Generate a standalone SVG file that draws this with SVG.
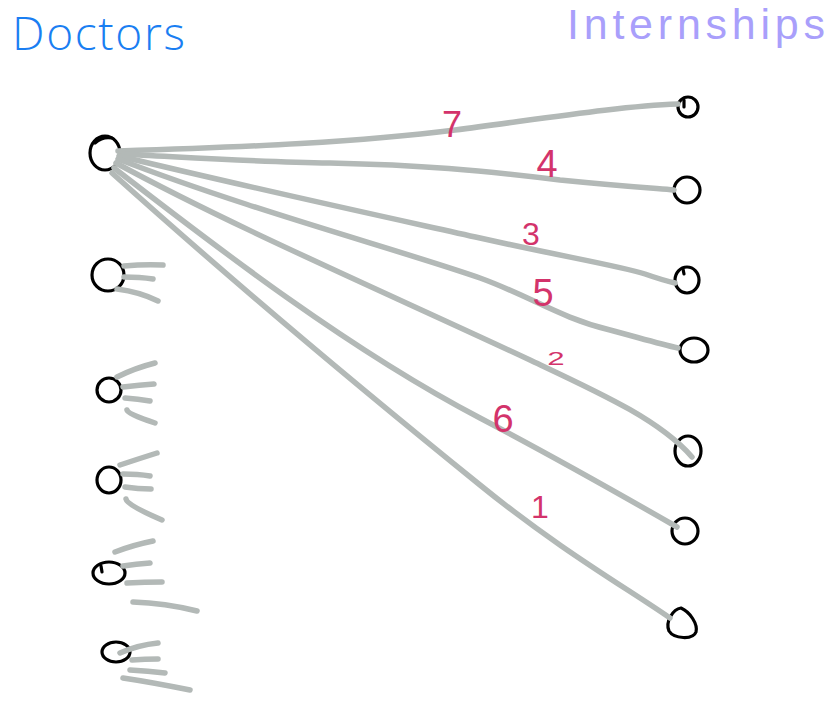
<svg xmlns="http://www.w3.org/2000/svg" width="840" height="701" viewBox="0 0 840 701">
  <style>
    .bg { fill: #ffffff; }
    .node { fill: none; stroke: #000000; stroke-width: 3.2; stroke-linecap: round; stroke-linejoin: round; }
    .edge { fill: none; stroke: #b3b9b7; stroke-width: 5.5; stroke-linecap: round; stroke-linejoin: round; }
    .title { font-weight: 300; }
    .doctors { font-family: "Open Sans", "Liberation Sans", sans-serif; fill: #1a7ef2; font-size: 46px; }
    .internships { font-family: "Liberation Sans", Arial, sans-serif; fill: #a99ffb; font-size: 43px; }
    .weight { font-family: "Liberation Sans", Arial, sans-serif; fill: #d3336b; text-anchor: middle; }
  </style>

  <rect class="bg" x="0" y="0" width="840" height="701"/>

  <!-- Column headings -->
  <text id="title-doctors" class="title doctors" x="12" y="50" textLength="173" lengthAdjust="spacing">Doctors</text>
  <text id="title-internships" class="title internships" x="567" y="39" textLength="258" lengthAdjust="spacing">Internships</text>

  <!-- Doctors -->
  <g id="doctor-1"><ellipse class="node" cx="105" cy="153" rx="15" ry="17"/><path class="node" d="M95,143 Q103,136 112,138"/></g>
  <g id="doctor-2"><ellipse class="node" cx="108" cy="275" rx="16" ry="16"/></g>
  <g id="doctor-3"><ellipse class="node" cx="109" cy="390" rx="12" ry="12"/></g>
  <g id="doctor-4"><ellipse class="node" cx="109" cy="480" rx="12" ry="13"/></g>
  <g id="doctor-5"><ellipse class="node" cx="109" cy="573" rx="16" ry="11"/><path class="node" d="M101,566 L102,572"/></g>
  <g id="doctor-6"><ellipse class="node" cx="116" cy="652" rx="14" ry="10"/></g>

  <!-- Internships -->
  <g id="internship-1"><ellipse class="node" cx="688" cy="107" rx="10" ry="10"/><path class="node" d="M684,100 L684,107"/></g>
  <g id="internship-2"><ellipse class="node" cx="687" cy="190" rx="13" ry="13"/></g>
  <g id="internship-3"><ellipse class="node" cx="687" cy="280" rx="12" ry="13"/><path class="node" d="M683,269 L684,274"/></g>
  <g id="internship-4"><ellipse class="node" cx="694" cy="350" rx="14" ry="12"/></g>
  <g id="internship-5"><ellipse class="node" cx="688" cy="451" rx="13" ry="15"/></g>
  <g id="internship-6"><ellipse class="node" cx="685" cy="531" rx="13" ry="13"/></g>
  <g id="internship-7"><path class="node" d="M681,608 C690,612 698,624 696,632 C693,640 674,639 669,631 C665,622 673,609 681,608 Z"/></g>

  <!-- Connectors -->
  <g id="connectors">
    <!-- doctor 1 to every internship -->
    <path class="edge" d="M118,151 C250,147 360,142 455,130 C540,119 620,106 678,104"/>
    <path class="edge" d="M120,154 C200,158 260,162 330,163 C420,165 480,170 560,180 C620,186 650,188 674,190"/>
    <path class="edge" d="M119,156 C260,190 390,218 480,238 C560,256 620,266 645,274 Q662,280 675,283"/>
    <path class="edge" d="M118,159 C250,210 400,250 480,278 C530,296 560,318 610,330 C640,338 660,344 678,348"/>
    <path class="edge" d="M116,163 C230,225 380,290 530,360 C600,393 660,420 692,457"/>
    <path class="edge" d="M114,168 C220,250 350,350 480,418 C560,460 630,500 677,527"/>
    <path class="edge" d="M112,173 C220,270 350,380 480,485 C560,550 630,590 670,618"/>

    <!-- stubs of the other doctors -->
    <path class="edge" d="M124,266 Q145,264 163,265"/>
    <path class="edge" d="M124,277 Q140,277 153,279"/>
    <path class="edge" d="M117,289 Q140,292 158,301"/>

    <path class="edge" d="M117,377 Q135,368 155,363"/>
    <path class="edge" d="M123,387 Q140,385 154,384"/>
    <path class="edge" d="M125,398 Q138,399 150,401"/>
    <path class="edge" d="M127,410 Q128,414 155,423"/>

    <path class="edge" d="M120,465 Q138,459 157,453"/>
    <path class="edge" d="M123,474 Q138,474 150,476"/>
    <path class="edge" d="M125,487 Q138,489 151,489"/>
    <path class="edge" d="M126,499 Q127,505 162,520"/>

    <path class="edge" d="M115,552 Q133,545 153,541"/>
    <path class="edge" d="M123,566 Q136,564 150,563"/>
    <path class="edge" d="M127,583 Q145,582 162,582"/>
    <path class="edge" d="M133,602 Q165,603 197,611"/>

    <path class="edge" d="M120,653 Q138,645 158,643"/>
    <path class="edge" d="M132,660 Q145,659 158,659"/>
    <path class="edge" d="M130,670 Q148,671 165,673"/>
    <path class="edge" d="M123,678 Q150,682 190,690"/>
  </g>

  <!-- Edge weights -->
  <g id="weights">
    <text class="weight" x="452" y="137" font-size="36">7</text>
    <text class="weight" x="547" y="177" font-size="38">4</text>
    <text class="weight" x="531" y="245" font-size="32">3</text>
    <text class="weight" x="543" y="306" font-size="38">5</text>
    <text class="weight" transform="translate(556,365) scale(1.3,0.75)" font-size="24">2</text>
    <text class="weight" x="503" y="432" font-size="38">6</text>
    <text class="weight" x="540" y="518" font-size="32">1</text>
  </g>
</svg>
